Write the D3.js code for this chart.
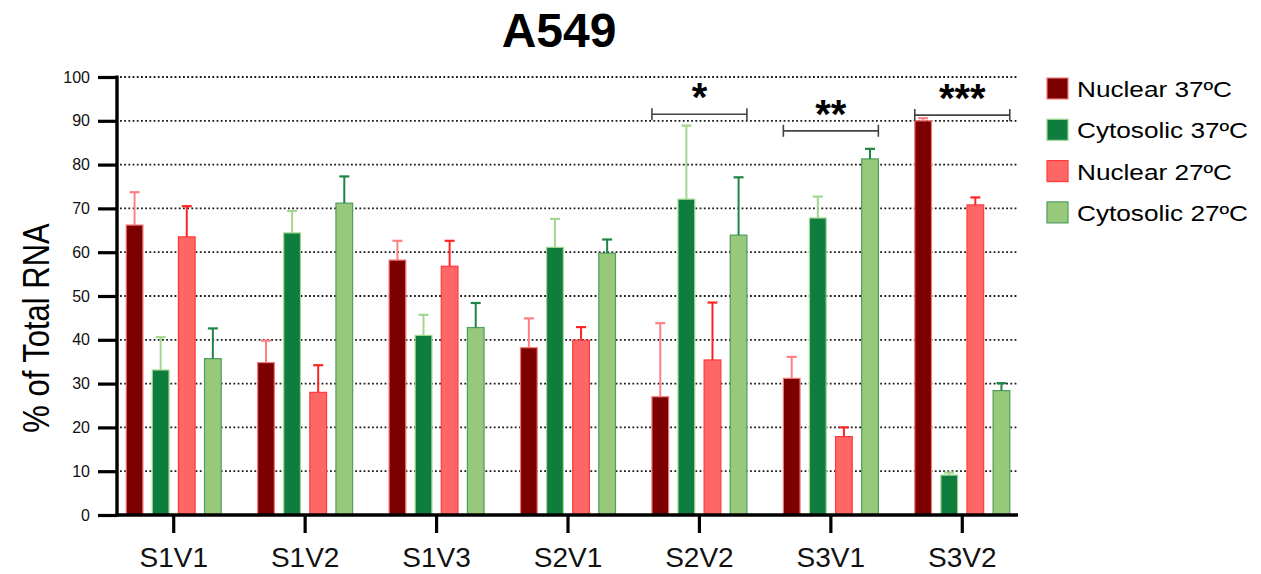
<!DOCTYPE html>
<html>
<head>
<meta charset="utf-8">
<script src="https://cdn.jsdelivr.net/npm/d3@7"></script>
<style>
  html, body { margin: 0; padding: 0; background: #fff; }
  svg { display: block; font-family: "Liberation Sans", Arial, Helvetica, sans-serif; }
</style>
</head>
<body>
<svg id="chart" width="1261" height="574"></svg>
<script>
// ---------------- data ----------------
const categories = ["S1V1", "S1V2", "S1V3", "S2V1", "S2V2", "S3V1", "S3V2"];
const seriesNames = ["Nuclear 37ºC", "Cytosolic 37ºC", "Nuclear 27ºC", "Cytosolic 27ºC"];

const nuclear37    = [66.2, 34.8, 58.2, 38.2, 27.0, 31.2, 90.0];
const nuclear37Err = [7.5, 5.0, 4.4, 6.7, 16.8, 4.9, 0.6];
const cyto37       = [33.1, 64.4, 41.0, 61.1, 72.1, 67.8, 9.1];
const cyto37Err    = [7.5, 5.0, 4.7, 6.5, 16.8, 4.9, 0.6];
const nuclear27    = [63.5, 28.0, 56.8, 39.9, 35.4, 17.9, 70.8];
const nuclear27Err = [7.0, 6.2, 5.8, 3.0, 13.1, 2.1, 1.7];
const cyto27       = [35.7, 71.2, 42.8, 59.8, 63.9, 81.3, 28.4];
const cyto27Err    = [6.9, 6.1, 5.6, 3.1, 13.2, 2.3, 1.7];

const yTicks = [0, 10, 20, 30, 40, 50, 60, 70, 80, 90, 100];

const sigCategories = ["S2V2", "S3V1", "S3V2"];
const sigLabels     = ["*", "**", "***"];
const sigLevels     = [91.5, 87.7, 91.3];

// ---------------- styles ----------------
const fills   = ["#7d0000", "#0e7d3e", "#ff6666", "#98c879"];
const strokes = ["#f07a7a", "#9fd58e", "#ff3b3b", "#4f9e5e"];
const errCols = ["#ff8080", "#a3d78f", "#ff2424", "#1f8445"];

const values = [nuclear37, cyto37, nuclear27, cyto27];
const errors = [nuclear37Err, cyto37Err, nuclear27Err, cyto27Err];

const rows = [];
categories.forEach((c, ci) => {
  seriesNames.forEach((s, si) => {
    rows.push({ cat: c, series: s, si: si, value: values[si][ci], err: errors[si][ci] });
  });
});

const svg = d3.select("#chart");

const x0 = d3.scaleBand().domain(categories).range([108, 1028]).padding(0);
const x1 = d3.scaleBand().domain(seriesNames).range([-47.5, 47.5]).paddingInner(0.36);
const y  = d3.scaleLinear().domain([0, 100]).range([515, 77]);

const axisLeftX = 117;
const axisRightX = 1018;

// grid lines
svg.append("g")
  .selectAll("line")
  .data(yTicks.filter(t => t > 0))
  .join("line")
  .attr("x1", axisLeftX + 3)
  .attr("x2", axisRightX)
  .attr("y1", d => y(d))
  .attr("y2", d => y(d))
  .attr("stroke", "#1a1a1a")
  .attr("stroke-width", 1.8)
  .attr("stroke-dasharray", "1.8,2.4");

// bars
const cx = d => x0(d.cat) + x0.bandwidth() / 2 + x1(d.series);
svg.append("g")
  .selectAll("rect")
  .data(rows)
  .join("rect")
  .attr("x", d => cx(d))
  .attr("width", x1.bandwidth())
  .attr("y", d => y(d.value))
  .attr("height", d => y(0) - y(d.value))
  .attr("fill", d => fills[d.si])
  .attr("stroke", d => strokes[d.si])
  .attr("stroke-width", 1.2);

// error bars
const eg = svg.append("g");
eg.selectAll("line.v")
  .data(rows)
  .join("line")
  .attr("class", "v")
  .attr("x1", d => cx(d) + x1.bandwidth() / 2)
  .attr("x2", d => cx(d) + x1.bandwidth() / 2)
  .attr("y1", d => y(d.value))
  .attr("y2", d => y(d.value + d.err))
  .attr("stroke", d => errCols[d.si])
  .attr("stroke-width", 2);
eg.selectAll("line.c")
  .data(rows)
  .join("line")
  .attr("class", "c")
  .attr("x1", d => cx(d) + x1.bandwidth() / 2 - 5)
  .attr("x2", d => cx(d) + x1.bandwidth() / 2 + 5)
  .attr("y1", d => y(d.value + d.err))
  .attr("y2", d => y(d.value + d.err))
  .attr("stroke", d => errCols[d.si])
  .attr("stroke-width", 2.2);

// y axis
const yAxis = d3.axisLeft(y).tickValues(yTicks).tickSize(19).tickPadding(8);
const gy = svg.append("g")
  .attr("transform", `translate(${axisLeftX},0)`)
  .call(yAxis);
gy.select(".domain").remove();
gy.selectAll(".tick line").attr("stroke", "#000").attr("stroke-width", 3.2);
gy.selectAll(".tick text")
  .attr("fill", "#111")
  .style("font-size", "16px")
  .style("font-family", "'Liberation Sans', Arial, sans-serif");
svg.append("line")
  .attr("x1", axisLeftX).attr("x2", axisLeftX)
  .attr("y1", y(100) - 1.6).attr("y2", y(0) + 1.6)
  .attr("stroke", "#000").attr("stroke-width", 3.4);

// x axis
const xAxis = d3.axisBottom(x0).tickSize(18).tickPadding(14);
const gx = svg.append("g")
  .attr("transform", `translate(0,${y(0)})`)
  .call(xAxis);
gx.select(".domain").remove();
gx.selectAll(".tick line").attr("stroke", "#000").attr("stroke-width", 3.2);
gx.selectAll(".tick text")
  .attr("fill", "#111")
  .attr("y", 52)
  .attr("dy", "0")
  .style("font-size", "28px")
  .style("font-family", "'Liberation Sans', Arial, sans-serif");
svg.append("line")
  .attr("x1", axisLeftX - 1.7).attr("x2", axisRightX)
  .attr("y1", y(0)).attr("y2", y(0))
  .attr("stroke", "#000").attr("stroke-width", 3.4);

// y title
svg.append("text")
  .attr("transform", `translate(49,${(y(0) + y(100)) / 2 + 32}) rotate(-90) scale(1,1.22)`)
  .attr("text-anchor", "middle")
  .style("font-size", "31px")
  .attr("fill", "#000")
  .text("% of Total RNA");

// title
svg.append("text")
  .attr("x", 559)
  .attr("y", 47)
  .attr("text-anchor", "middle")
  .style("font-size", "48px")
  .style("font-weight", "bold")
  .attr("fill", "#000")
  .text("A549");

// significance brackets
const sg = svg.append("g");
sigCategories.forEach((c, i) => {
  const left = x0(c) + x0.bandwidth() / 2 + x1(seriesNames[0]);
  const right = x0(c) + x0.bandwidth() / 2 + x1(seriesNames[3]) + x1.bandwidth();
  const yy = y(sigLevels[i]);
  sg.append("path")
    .attr("d", `M${left},${yy - 6}V${yy + 6}M${left},${yy}H${right}M${right},${yy - 6}V${yy + 6}`)
    .attr("stroke", "#444")
    .attr("stroke-width", 1.6)
    .attr("fill", "none");
  sg.append("text")
    .attr("x", (left + right) / 2)
    .attr("y", yy - 3)
    .attr("text-anchor", "middle")
    .style("font-size", "40px")
    .style("font-weight", "bold")
    .attr("fill", "#000")
    .text(sigLabels[i]);
});

// legend
const lg = svg.append("g").attr("transform", "translate(1047,78)");
seriesNames.forEach((s, i) => {
  const row = lg.append("g").attr("transform", `translate(0,${i * 41.3})`);
  row.append("rect")
    .attr("width", 21).attr("height", 21)
    .attr("fill", fills[i])
    .attr("stroke", strokes[i])
    .attr("stroke-width", 1.2);
  row.append("text")
    .attr("transform", "translate(30,19) scale(1.19,1)")
    .style("font-size", "22px")
    .attr("fill", "#000")
    .text(s);
});
</script>
</body>
</html>
